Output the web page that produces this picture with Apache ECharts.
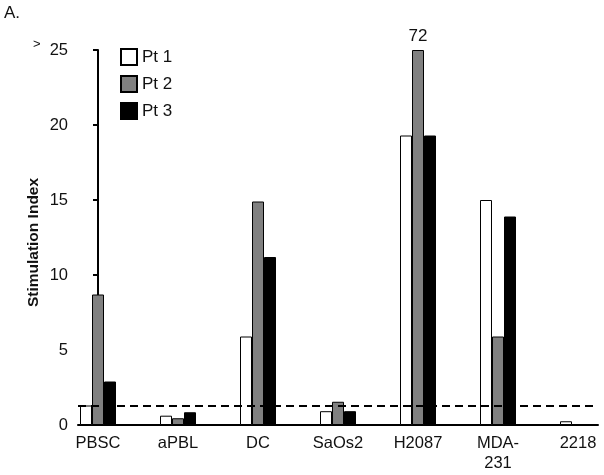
<!DOCTYPE html>
<html>
<head>
<meta charset="utf-8">
<script src="https://cdn.jsdelivr.net/npm/echarts@6/dist/echarts.min.js"></script>
<style>
  html, body { margin: 0; padding: 0; background: #fff; }
  #main { width: 604px; height: 475px; }
</style>
</head>
<body>
<div id="main"></div>
<script>
const categories = ['PBSC', 'aPBL', 'DC', 'SaOs2', 'H2087', 'MDA-\n231', '2218'];
const pt1 = [1.3, 0.62, 5.9, 0.92, 19.3, 15.0, 0.25];
const pt2 = [8.7, 0.45, 14.9, 1.55, 72, 5.9, 0.05];
const pt3 = [2.9, 0.85, 11.2, 0.92, 19.3, 13.9, 0.05];
const yTicks = [0, 5, 10, 15, 20, 25];
const cutoff = 1.3;

const yMax = yTicks[yTicks.length - 1];
const font = 'Liberation Sans, Arial, sans-serif';

// bars above the axis break get clipped and labelled with their real value
function toPoints(values) {
  return values.map((v, i) => {
    if (v > yMax) {
      return {
        value: [i, yMax],
        label: { show: true, position: 'top', distance: 5, formatter: String(v), fontSize: 17, color: '#111', fontFamily: font }
      };
    }
    return [i, v];
  });
}

function makeSeries(name, values, color) {
  return {
    name,
    type: 'bar',
    data: toPoints(values),
    barWidth: 12,
    barGap: '0%',
    itemStyle: { color, borderColor: '#000', borderWidth: 1 }
  };
}

const chart = echarts.init(document.getElementById('main'), null, { renderer: 'canvas' });

const series = [
  makeSeries('Pt 1', pt1, '#ffffff'),
  makeSeries('Pt 2', pt2, '#808080'),
  makeSeries('Pt 3', pt3, '#000000')
];
series[2].markLine = {
  silent: true,
  symbol: 'none',
  label: { show: false },
  lineStyle: { color: '#000', width: 2, type: [8, 5] },
  data: [{ yAxis: cutoff }]
};

chart.setOption({
  animation: false,
  backgroundColor: '#fff',
  textStyle: { fontFamily: font },
  grid: { left: 78, right: 6, top: 50, bottom: 50 },
  legend: {
    orient: 'vertical',
    left: 115,
    top: 43,
    itemWidth: 16,
    itemHeight: 16,
    itemGap: 9,
    icon: 'rect',
    textStyle: { fontSize: 17, color: '#111', fontFamily: font },
    data: ['Pt 1', 'Pt 2', 'Pt 3']
  },
  graphic: [
    { type: 'text', left: 4, top: 5, style: { text: 'A.', fontSize: 17, fill: '#111', fontFamily: font } },
    { type: 'text', left: 33, top: 38, style: { text: '>', fontSize: 13, fill: '#111', fontFamily: font } }
  ],
  xAxis: {
    type: 'value',
    min: -0.25,
    max: 6.25,
    interval: 0.25,
    splitLine: { show: false },
    axisTick: { show: false },
    axisLine: { show: true, lineStyle: { color: '#000', width: 2 } },
    axisLabel: {
      show: true,
      margin: 8,
      fontSize: 16.5,
      lineHeight: 20,
      color: '#111',
      fontFamily: font,
      showMinLabel: true,
      showMaxLabel: true,
      hideOverlap: false,
      formatter: v => (Math.abs(v - Math.round(v)) < 1e-6 && categories[Math.round(v)] !== undefined) ? categories[Math.round(v)] : ''
    }
  },
  yAxis: {
    type: 'value',
    min: 0,
    max: yMax,
    interval: 5,
    name: 'Stimulation Index',
    nameLocation: 'middle',
    nameGap: 36,
    nameMoveOverlap: false,
    nameTextStyle: { fontSize: 15.5, fontWeight: 'bold', color: '#111', fontFamily: font, padding: [0, 10, 0, 0] },
    splitLine: { show: false },
    axisLine: { show: true, lineStyle: { color: '#000', width: 2 } },
    axisTick: { show: true, length: 5, lineStyle: { color: '#000', width: 2 } },
    axisLabel: { fontSize: 16.5, color: '#111', margin: 10, fontFamily: font }
  },
  series
});
</script>
</body>
</html>
